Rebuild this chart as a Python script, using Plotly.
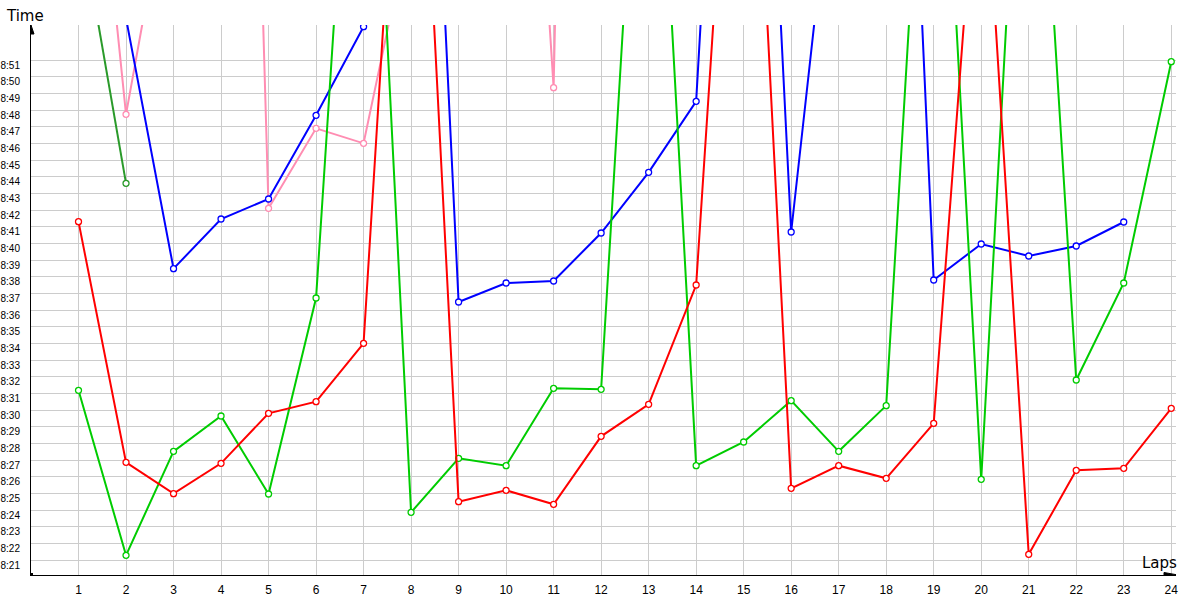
import plotly.graph_objects as go

laps = list(range(1, 25))

# lap times in seconds (8:21 = 501 s); values above the visible window are off-chart laps
red = [521.3, 506.86, 504.98, 506.8, 509.8, 510.5, 514.0, 560.0, 504.5, 505.18, 504.34, 508.42,
       510.34, 517.5, 561.0, 505.3, 506.66, 505.9, 509.2, 547.0, 501.34, 506.38, 506.5, 510.1]
green = [511.18, 501.28, 507.52, 509.64, 504.96, 516.72, 560.5, 503.86, 507.1, 506.66, 511.3, 511.24,
         558.5, 506.66, 508.08, 510.56, 507.52, 510.26, 558.0, 505.84, 557.7, 511.8, 517.62, 530.9]
blue = [None, 533.5, 518.48, 521.46, 522.66, 527.68, 533.0, 576.0, 516.48, 517.62, 517.74, 520.62,
        524.26, 528.52, 578.0, 520.68, 546.4, 581.0, 517.8, 519.96, 519.24, 519.84, 521.28, None]
pink = [555.7, 527.74, 543.5, 620.0, 522.1, 526.9, 526.0, 539.5, 565.0, 574.0, 529.34, 660.0,
        None, None, None, None, None, None, None, None, None, None, None, None]
darkgreen = [540.0, 523.6] + [None] * 22

tick_secs = list(range(501, 532))
tick_text = [f"{s // 60}:{s % 60:02d}" for s in tick_secs]

series = [
    ("darkgreen", darkgreen, "#2a9a2a"),
    ("pink", pink, "#ff8db2"),
    ("blue", blue, "#0000ff"),
    ("green", green, "#00cc00"),
    ("red", red, "#ff0000"),
]

fig = go.Figure()
for name, vals, col in series:
    fig.add_trace(go.Scatter(
        x=laps, y=vals, mode="lines+markers", name=name,
        line=dict(color=col, width=2),
        marker=dict(symbol="circle", size=6, color="white", line=dict(color=col, width=1.3)),
        connectgaps=False,
    ))

Y0, Y1 = 500.1, 533.1
X0, X1 = 0, 24.1

fig.update_layout(
    width=1200, height=600,
    margin=dict(l=31, r=24, t=25, b=25, autoexpand=False),
    paper_bgcolor="white", plot_bgcolor="white",
    showlegend=False,
    font=dict(family="Liberation Sans, Arial, sans-serif", color="#000000"),
    xaxis=dict(
        range=[X0, X1], tickvals=laps, ticktext=[str(l) for l in laps],
        showgrid=True, gridcolor="#cccccc", gridwidth=1, automargin=False,
        zeroline=False, showline=True, linecolor="#000000", linewidth=1,
        ticks="", tickfont=dict(size=12, color="#000000"), ticklabelstandoff=4,
    ),
    yaxis=dict(
        range=[Y0, Y1], tickvals=tick_secs, ticktext=tick_text,
        showgrid=True, gridcolor="#cccccc", gridwidth=1, automargin=False,
        zeroline=False, showline=True, linecolor="#000000", linewidth=1,
        ticks="", tickfont=dict(size=10, color="#000000"), ticklabelshift=5,
        ticklabelstandoff=8,
    ),
    annotations=[
        dict(text="Time", xref="paper", yref="paper", x=-0.005, y=1.0, xanchor="center",
             yanchor="bottom", showarrow=False, font=dict(size=15, family="DejaVu Sans", color="#000000"),
             yshift=-2),
        dict(text="Laps", xref="paper", yref="paper", x=0.986, y=0.0, xanchor="center",
             yanchor="bottom", showarrow=False, font=dict(size=15, family="DejaVu Sans", color="#000000"),
             yshift=1),
    ],
    shapes=[
        # arrowhead on the y axis
        dict(type="path", xref="x", yref="y", xsizemode="pixel", ysizemode="pixel",
             xanchor=X0, yanchor=Y1, path="M -3,-9 L 0,0 L 3,-9 Z",
             fillcolor="#000000", line=dict(color="#000000", width=1)),
        # arrowhead on the x axis
        dict(type="path", xref="x", yref="y", xsizemode="pixel", ysizemode="pixel",
             xanchor=X1, yanchor=Y0, path="M -12,-2.5 L 2,0 L -12,2.5 Z",
             fillcolor="#000000", line=dict(color="#000000", width=1)),
        # origin dot
        dict(type="rect", xref="x", yref="y", xsizemode="pixel", ysizemode="pixel",
             xanchor=X0, yanchor=Y0, x0=-2, x1=2, y0=-2, y1=2,
             fillcolor="#000000", line=dict(width=0)),
    ],
)

fig.write_html("out.html", config={"displayModeBar": False},
               post_script="document.body.style.margin='0';document.body.style.overflow='hidden';")
